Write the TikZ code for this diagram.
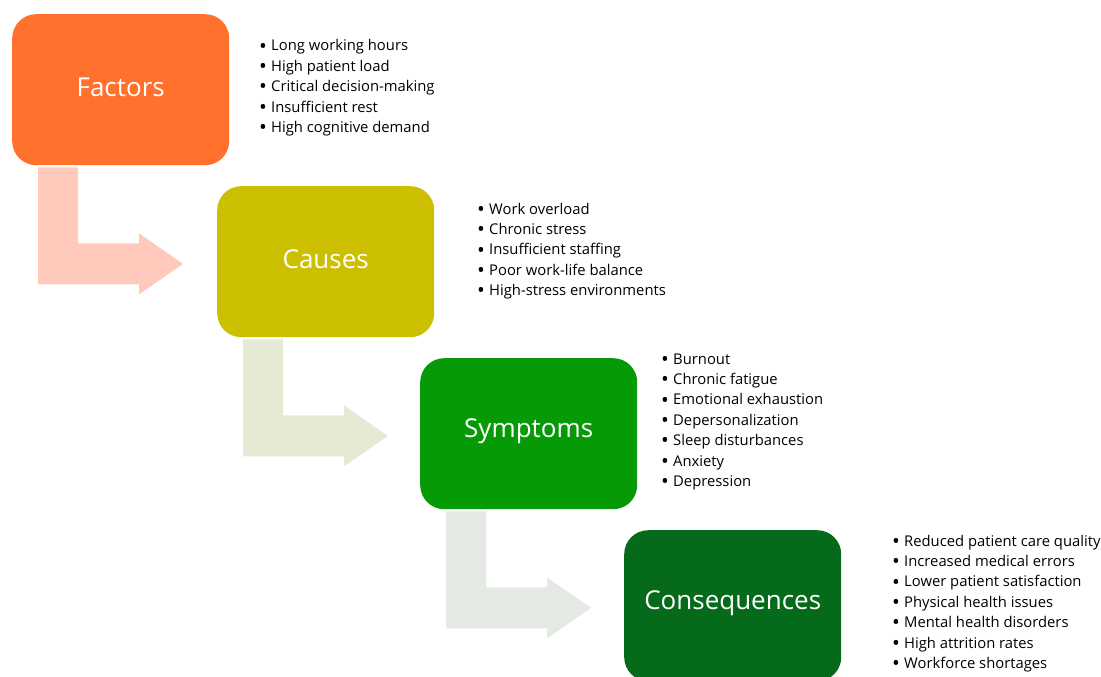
\documentclass[tikz,border=0pt]{standalone}
\usepackage{fontspec}
\usepackage{graphicx}
\setmainfont{Open Sans}
\begin{document}
\begin{tikzpicture}[x=1pt,y=-1pt,
  box/.style={rounded corners=24pt, minimum width=217pt, minimum height=151pt, inner sep=0pt, anchor=north west, text=white, font=\fontsize{26}{30}\selectfont},
  label/.style={text=white, inner sep=0pt, font=\fontsize{26}{30}\selectfont},
  item/.style={anchor=base west, inner sep=0pt, font=\fontsize{14.8}{16}\selectfont}]
\definecolor{cF}{HTML}{FF712C}
\definecolor{cC}{HTML}{CCBF00}
\definecolor{cS}{HTML}{069A06}
\definecolor{cQ}{HTML}{056A1A}
\definecolor{aF}{HTML}{FFC9BC}
\definecolor{aC}{HTML}{E6EAD4}
\definecolor{aS}{HTML}{E4E9E4}
\useasboundingbox (0,0) rectangle (1101,677);

\node[box, fill=cF] (f) at (12,14) {};
\node[box, fill=cC] (c) at (217,186) {};
\node[box, fill=cS] (s) at (420,358) {};
\node[box, fill=cQ] (q) at (624,530) {};
\node[label] (fL) at ([yshift=2pt]f.center) {Factors};
\node[label] (cL) at ([yshift=2pt]c.center) {Causes};
\node[label] (sL) at ([yshift=2pt]s.center) {Symptoms};
\node[label] (qL) at ([yshift=2pt]q.center) {Consequences};

\foreach \src/\col in {f/aF, c/aC, s/aS}{
  \begin{scope}[shift={(\src.south west)}]
    \fill[\col] (26,2) -- (66,2) -- (66,78) -- (127,78) -- (127,68) -- (171,98.5)
      -- (127,129) -- (127,119) -- (26,119) -- cycle;
  \end{scope}
}

\newcommand{\bulletlist}[4]{% x, y, name, list
  \foreach \t [count=\i] in {#4}{
    \node[item] (#3\i) at (#1, #2+20.4*\i-20.4) {\makebox[12pt][l]{\raisebox{-2.2pt}{\scalebox{1.4}{\textbullet}}}\t};
  }
}
\bulletlist{259}{51}{fl}{Long working hours, High patient load, Critical decision-making, Insufficient rest, High cognitive demand}
\bulletlist{477}{214}{cl}{Work overload, Chronic stress, Insufficient staffing, Poor work-life balance, High-stress environments}
\bulletlist{661}{364}{sl}{Burnout, Chronic fatigue, Emotional exhaustion, Depersonalization, Sleep disturbances, Anxiety, Depression}
\bulletlist{892}{546}{ql}{Reduced patient care quality, Increased medical errors, Lower patient satisfaction, Physical health issues, Mental health disorders, High attrition rates, Workforce shortages}
\end{tikzpicture}
\end{document}
